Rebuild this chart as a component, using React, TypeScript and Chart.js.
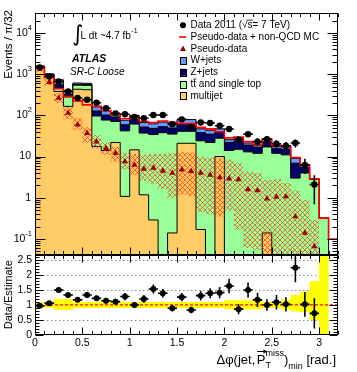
import React, { useEffect, useRef } from "react";
import { Chart, registerables } from "chart.js";

Chart.register(...registerables);

// ---------- binning (32 bins of 0.1 between 0 and 3.2) ----------
const BIN_WIDTH = 0.1;
const X_MAX = 3.2;
const binLow: number[] = Array.from({ length: 32 }, (_, i) => Math.round(i * BIN_WIDTH * 10) / 10);

// ---------- stacked backgrounds (events per bin) ----------
const multijet = [1400, 840, 380, 165, 430, 420, 17.6, 14, 22, 1.08, 14.6, 1.18, 0.29, 0, 0.14, 21, 21, 0.17, 0, 10, 0, 0, 0, 0, 0.14, 0, 0, 0, 0, 0, 0, 0];
const ttbar = [90, 90, 80, 115, 110, 115, 79, 63, 49, 41, 47, 36, 34, 38, 35, 20, 20, 24, 22, 18, 14, 15, 13, 12, 17, 12, 11, 3, 4, 2.8, 0.32, 0];
const zjets = [35, 30, 90, 45, 25, 25, 31, 25, 20, 17, 19, 15, 14, 15, 14, 20, 20, 14, 13, 12, 8, 8.5, 6, 4.5, 5.5, 3.5, 4, 3.9, 1.4, 0, 0, 0];
const wjets = [65, 60, 180, 75, 45, 40, 33, 27, 20, 17, 19, 15, 14, 15.5, 15, 18, 18, 9, 8.4, 7, 3.6, 3.5, 2.4, 1.7, 3, 2.1, 2, 2.2, 0.7, 0, 0, 0];

// ---------- pseudo-data + non-QCD MC (red line) ----------
const pseudoPlusMC = [1495, 830, 443, 286, 225, 180, 166, 131, 101, 83, 91, 71, 67, 73, 68, 63, 63, 51, 47, 40, 28.5, 29.7, 23, 19.7, 26.5, 18.7, 18, 9.5, 6.2, 2.9, 0.32, 0.1];

// ---------- pseudo-data (triangles) and its uncertainty band ----------
const pseudoData: (number | null)[] = [1350, 640, 263, 114, 59, 37, 23, 16, 12, 7.6, 6.3, 5.0, 5.3, 4.5, 4.0, 4.8, 4.4, 4.0, 3.6, 3.1, 2.9, 2.8, 1.6, 1.5, 0.95, 1.05, 1.07, 0.35, 0.14, 0.066, null, null];
const pseudoLow = [1150, 540, 200, 80, 45, 22, 16, 11, 7.5, 4.8, 3.6, 2.6, 2.2, 1.6, 1.0, 1.2, 1.1, 0.45, 0.4, 0.35, 0.5, 0.17, 0.06, 0.055, 0.03, 0.03, 0.03, 0.03, 0.03, 0.03, 0, 0];
const pseudoHigh = [1550, 760, 350, 160, 85, 52, 33, 22, 17, 12, 11.5, 11, 11.5, 11.5, 12, 13, 12.5, 10, 9.5, 9, 8.4, 7, 4.3, 4, 2.7, 2.8, 2.3, 1.5, 0.9, 0.29, 0, 0];

// ---------- data ----------
const dataVals: (number | null)[] = [1450, 880, 665, 380, 263, 240, 203, 149, 112, 106, 91, 85, 102, 102, 61, 80, 52, 67, 65, 56, 46.5, 25.5, 35, 23, 26.5, 20.4, 18.3, 21.3, 6.3, 2.1, null, null];
const dataErr = [38, 30, 26, 19.5, 16, 15.5, 14, 12, 10.5, 10.3, 9.5, 9.2, 10, 10, 7.8, 9, 7.2, 8.2, 8, 7.5, 6.8, 5, 5.9, 4.8, 5.1, 4.5, 4.3, 4.6, 2.5, 1.4, 0, 0];

// ---------- ratio panel ----------
const ratioVals: (number | null)[] = [0.97, 1.06, 1.5, 1.33, 1.17, 1.33, 1.22, 1.14, 1.11, 1.28, 1.0, 1.2, 1.53, 1.39, 0.89, 1.26, 0.83, 1.31, 1.39, 1.41, 1.63, 0.86, 1.5, 1.17, 1.0, 1.09, 1.02, 2.24, 1.02, 0.72, null, null];
const ratioErr = [0.03, 0.04, 0.06, 0.07, 0.07, 0.09, 0.09, 0.09, 0.1, 0.12, 0.1, 0.13, 0.15, 0.14, 0.11, 0.14, 0.11, 0.16, 0.17, 0.19, 0.24, 0.17, 0.25, 0.24, 0.19, 0.24, 0.24, 0.48, 0.41, 0.5, 0, 0];
const bandLow = [0.91, 0.91, 0.83, 0.83, 0.9, 0.9, 0.9, 0.9, 0.9, 0.9, 0.9, 0.9, 0.9, 0.9, 0.9, 0.9, 0.9, 0.9, 0.9, 0.9, 0.86, 0.86, 0.86, 0.86, 0.9, 0.9, 0.84, 0.78, 0.76, 0.5, 0, 1];
const bandHigh = [1.09, 1.09, 1.2, 1.2, 1.1, 1.1, 1.1, 1.1, 1.1, 1.1, 1.1, 1.1, 1.1, 1.1, 1.1, 1.1, 1.1, 1.1, 1.1, 1.1, 1.16, 1.16, 1.16, 1.16, 1.1, 1.1, 1.18, 1.33, 1.45, 1.8, 2.7, 1];

// ---------- axes ----------
const logTickExps = [-1, 0, 1, 2, 3, 4];
const ratioTickLabels = [0, 0.5, 1, 1.5, 2, 2.5];
const xTickLabels = [0, 0.5, 1, 1.5, 2, 2.5, 3];
const legendLabels = ["Data 2011 (", "Pseudo-data + non-QCD MC", "Pseudo-data", "W+jets", "Z+jets", "tt and single top", "multijet"];

const COL_MJ = "#ffcc66";
const COL_TT = "#99ff99";
const COL_Z = "#000066";
const COL_W = "#6699ff";
const COL_RED = "#ff0000";
const COL_PSEUDO = "#990000";
const COL_YELLOW = "#ffff00";
const FONT = '"Liberation Sans", Arial, Helvetica, sans-serif';
const TINY = 1e-3;

type Pt = { x: number; y: number };

const stepPts = (vals: number[], lin = false): Pt[] => {
  const f = (v: number) => (lin ? v : Math.max(v, TINY));
  const pts = binLow.map((x, i) => ({ x, y: f(vals[i]) }));
  pts.push({ x: X_MAX, y: f(vals[vals.length - 1]) });
  return pts;
};

const centerPts = (vals: (number | null)[]): Pt[] =>
  vals.flatMap((v, i) => (v == null ? [] : [{ x: binLow[i] + BIN_WIDTH / 2, y: v }]));

const errPts = (vals: (number | null)[], errs: number[], log: boolean): Pt[] => {
  const out: Pt[] = [];
  vals.forEach((v, i) => {
    if (v == null) return;
    const c = binLow[i] + BIN_WIDTH / 2;
    const lo = log ? Math.max(v - errs[i], TINY) : v - errs[i];
    out.push({ x: c, y: lo }, { x: c, y: v + errs[i] }, { x: c, y: NaN });
    out.push({ x: binLow[i], y: v }, { x: binLow[i] + BIN_WIDTH, y: v }, { x: binLow[i], y: NaN });
  });
  return out;
};

function txt(ctx: CanvasRenderingContext2D, s: string, x: number, y: number, size: number, align: CanvasTextAlign = "left", baseline: CanvasTextBaseline = "middle", style = "", color = "#000") {
  ctx.font = `${style} ${size}px ${FONT}`.trim();
  ctx.textAlign = align;
  ctx.textBaseline = baseline;
  ctx.fillStyle = color;
  ctx.fillText(s, x, y);
  return ctx.measureText(s).width;
}
function measure(ctx: CanvasRenderingContext2D, s: string, size: number, style = "") {
  ctx.font = `${style} ${size}px ${FONT}`.trim();
  return ctx.measureText(s).width;
}
function seg(ctx: CanvasRenderingContext2D, x1: number, y1: number, x2: number, y2: number) {
  ctx.beginPath();
  ctx.moveTo(x1, y1);
  ctx.lineTo(x2, y2);
  ctx.stroke();
}

const atlasPlugin = {
  id: "atlasDecor",
  beforeDatasetsDraw(chart: any) {
    const ctx: CanvasRenderingContext2D = chart.ctx;
    const xs = chart.scales.x;
    const yr = chart.scales.yr;
    ctx.save();
    ctx.strokeStyle = "#8c8c8c";
    ctx.lineWidth = 1;
    ctx.setLineDash([1.5, 2.5]);
    for (const v of [0.5, 1, 1.5, 2, 2.5]) {
      const py = Math.round(yr.getPixelForValue(v)) + 0.5;
      seg(ctx, xs.left, py, xs.right, py);
    }
    ctx.restore();
  },
  afterDraw(chart: any) {
    const ctx: CanvasRenderingContext2D = chart.ctx;
    const xs = chart.scales.x;
    const ym = chart.scales.y;
    const yr = chart.scales.yr;
    const L = Math.round(xs.left) + 0.5;
    const R = Math.round(xs.right) - 0.5;
    ctx.save();
    ctx.strokeStyle = "#000";
    ctx.lineWidth = 1;
    ctx.setLineDash([]);

    // frames
    for (const s of [ym, yr]) {
      const t = Math.round(s.top) + 0.5;
      const b = Math.round(s.bottom) - 0.5;
      ctx.strokeRect(L, t, R - L, b - t);
    }

    // x ticks on both panels (top and bottom edges)
    for (const s of [ym, yr]) {
      const t = Math.round(s.top) + 0.5;
      const b = Math.round(s.bottom) - 0.5;
      for (let k = 0; k <= 32; k++) {
        const px = Math.round(xs.getPixelForValue(k / 10)) + 0.5;
        const len = k % 5 === 0 ? 7 : 3.5;
        seg(ctx, px, b, px, b - len);
        seg(ctx, px, t, px, t + len);
      }
    }

    // log ticks (main panel)
    for (let e = -2; e <= 4; e++) {
      for (let m = 1; m <= 9; m++) {
        const v = m * Math.pow(10, e);
        if (v < ym.min || v > ym.max) continue;
        const py = Math.round(ym.getPixelForValue(v)) + 0.5;
        const len = m === 1 ? 10 : 5;
        seg(ctx, L, py, L + len, py);
        seg(ctx, R, py, R - len, py);
      }
    }

    // ratio ticks
    for (let k = 0; k <= 26; k++) {
      const py = Math.round(yr.getPixelForValue(k / 10)) + 0.5;
      const len = k % 5 === 0 ? 8 : 4;
      seg(ctx, L, py, L + len, py);
      seg(ctx, R, py, R - len, py);
    }

    // y labels (main, log)
    const rx = xs.left - 4;
    for (const e of logTickExps) {
      const py = ym.getPixelForValue(Math.pow(10, e));
      if (e === 0) txt(ctx, "1", rx, py, 10.5, "right");
      else if (e === 1) txt(ctx, "10", rx, py, 10.5, "right");
      else {
        const sup = String(e);
        const sw = measure(ctx, sup, 7.5);
        txt(ctx, sup, rx + 1, py - 5, 7.5, "right");
        txt(ctx, "10", rx + 1 - sw, py, 10.5, "right");
      }
    }
    // ratio labels
    for (const v of ratioTickLabels) {
      txt(ctx, String(v), xs.left - 3, yr.getPixelForValue(v), 10.5, "right");
    }
    // x labels
    for (const v of xTickLabels) {
      txt(ctx, String(v), xs.getPixelForValue(v), yr.bottom + 2.5, 10.5, "center", "top");
    }

    // axis titles
    ctx.save();
    ctx.translate(12, ym.top - 3);
    ctx.rotate(-Math.PI / 2);
    txt(ctx, "Events / \u03c0/32", 0, 0, 11.5, "right", "alphabetic");
    ctx.restore();
    ctx.save();
    ctx.translate(12, (yr.top + yr.bottom) / 2);
    ctx.rotate(-Math.PI / 2);
    txt(ctx, "Data/Estimate", 0, 0, 11, "center", "alphabetic");
    ctx.restore();

    // x-axis title: Δφ(jet,P_T^miss)_min [rad.]
    {
      const bs = 13, ss = 9, by = 364;
      const p1 = "\u0394\u03c6(jet,";
      const w1 = measure(ctx, p1, bs);
      const wP = measure(ctx, "P", bs);
      const wMiss = measure(ctx, "miss", ss);
      const wPar = measure(ctx, ")", bs);
      const wMin = measure(ctx, "min", ss);
      const wRad = measure(ctx, " [rad.]", bs);
      const total = w1 + 1.5 + wP + wMiss + wPar + wMin + wRad;
      let x0 = 336 - total;
      txt(ctx, p1, x0, by, bs, "left", "alphabetic");
      x0 += w1 + 1.5;
      txt(ctx, "P", x0, by, bs, "left", "alphabetic");
      ctx.lineWidth = 1;
      const ay = by - 12.5;
      seg(ctx, x0 + 0.5, ay, x0 + wP + 1, ay);
      ctx.beginPath();
      ctx.moveTo(x0 + wP + 2, ay);
      ctx.lineTo(x0 + wP - 2, ay - 2);
      ctx.lineTo(x0 + wP - 2, ay + 2);
      ctx.closePath();
      ctx.fillStyle = "#000";
      ctx.fill();
      x0 += wP;
      txt(ctx, "T", x0, by + 3.5, ss, "left", "alphabetic");
      txt(ctx, "miss", x0, by - 8.5, ss, "left", "alphabetic");
      x0 += wMiss;
      txt(ctx, ")", x0, by, bs, "left", "alphabetic");
      x0 += wPar;
      txt(ctx, "min", x0, by + 5, ss, "left", "alphabetic");
      x0 += wMin;
      txt(ctx, " [rad.]", x0, by, bs, "left", "alphabetic");
    }

    // annotations
    ctx.font = `22px "DejaVu Sans"`;
    ctx.textAlign = "left";
    ctx.textBaseline = "middle";
    ctx.fillStyle = "#000";
    ctx.fillText("\u222b", 72, 35);
    const wl = txt(ctx, "L dt ~4.7 fb", 80.5, 38.5, 10, "left", "alphabetic");
    txt(ctx, "-1", 80.5 + wl + 0.5, 33, 7, "left", "alphabetic");
    txt(ctx, "ATLAS", 72, 62, 10.5, "left", "alphabetic", "italic bold");
    txt(ctx, "SR-C Loose", 70, 74.5, 10, "left", "alphabetic", "italic");

    // legend
    const mx = 183, tx = 190.5, fs = 10;
    const rowY = (i: number) => 25.3 + i * 11.75;
    {
      const y = rowY(0);
      ctx.fillStyle = "#000";
      ctx.beginPath();
      ctx.arc(mx, y, 3, 0, Math.PI * 2);
      ctx.fill();
      let x = tx;
      x += txt(ctx, legendLabels[0], x, y, fs);
      const wr = txt(ctx, "\u221a", x, y, fs);
      x += wr;
      const wsx = txt(ctx, "s", x, y, fs);
      ctx.lineWidth = 0.8;
      seg(ctx, x - 0.5, y - 5.2, x + wsx + 0.3, y - 5.2);
      x += wsx;
      txt(ctx, "= 7 TeV)", x, y, fs);
    }
    {
      const y = rowY(1);
      ctx.strokeStyle = COL_RED;
      ctx.lineWidth = 1.6;
      seg(ctx, mx - 4, y, mx + 3, y);
      ctx.strokeStyle = "#000";
      txt(ctx, legendLabels[1], tx, y, fs);
    }
    {
      const y = rowY(2);
      ctx.fillStyle = COL_PSEUDO;
      ctx.beginPath();
      ctx.moveTo(mx, y - 3.2);
      ctx.lineTo(mx + 3, y + 2.3);
      ctx.lineTo(mx - 3, y + 2.3);
      ctx.closePath();
      ctx.fill();
      txt(ctx, legendLabels[2], tx, y, fs);
    }
    const boxes = [COL_W, COL_Z, COL_TT, COL_MJ];
    boxes.forEach((c, j) => {
      const y = rowY(3 + j);
      ctx.fillStyle = c;
      ctx.fillRect(mx - 3, y - 3.5, 6, 7);
      ctx.strokeStyle = "#000";
      ctx.lineWidth = 1;
      ctx.strokeRect(mx - 3 + 0.5, Math.round(y - 3.5) + 0.5, 6, 7);
      txt(ctx, legendLabels[3 + j], tx, y, fs);
      if (j === 2) {
        const wt = measure(ctx, "t", fs);
        ctx.lineWidth = 0.8;
        seg(ctx, tx + wt, y - 5, tx + 2 * wt + 0.3, y - 5);
      }
    });
    ctx.restore();
  },
};

export default function App() {
  const ref = useRef<HTMLCanvasElement | null>(null);
  useEffect(() => {
    const canvas = ref.current;
    if (!canvas) return;
    const ctx = canvas.getContext("2d")!;

    // red cross-hatch pattern
    const T = 5;
    const pc = document.createElement("canvas");
    pc.width = T;
    pc.height = T;
    const p = pc.getContext("2d")!;
    p.strokeStyle = "rgba(255,40,0,0.85)";
    p.lineWidth = 0.75;
    p.beginPath();
    p.moveTo(0, 0);
    p.lineTo(T, T);
    p.moveTo(T, 0);
    p.lineTo(0, T);
    p.stroke();
    const hatch = ctx.createPattern(pc, "repeat")!;

    const cumTT = multijet.map((v, i) => v + ttbar[i]);
    const cumZ = cumTT.map((v, i) => v + zjets[i]);
    const cumW = cumZ.map((v, i) => v + wjets[i]);

    const lineBase = { pointRadius: 0, stepped: true, spanGaps: false };
    const none = "rgba(0,0,0,0)";

    const datasets: any[] = [
      // ratio panel
      { ...lineBase, stepped: false, yAxisID: "yr", data: errPts(ratioVals, ratioErr, false), borderColor: "#000", borderWidth: 1.6 },
      { yAxisID: "yr", data: centerPts(ratioVals), showLine: false, pointRadius: 3, pointStyle: "circle", pointBackgroundColor: "#000", pointBorderColor: "#000", pointBorderWidth: 0 },
      { ...lineBase, stepped: false, yAxisID: "yr", data: [{ x: 0, y: 1 }, { x: X_MAX, y: 1 }], borderColor: COL_RED, borderWidth: 1.2, borderDash: [3, 2] },
      { ...lineBase, yAxisID: "yr", data: stepPts(bandHigh, true), borderColor: none, borderWidth: 1, fill: "+1", backgroundColor: COL_YELLOW },
      { ...lineBase, yAxisID: "yr", data: stepPts(bandLow, true), borderColor: none, borderWidth: 1, fill: false },
      // main panel
      { ...lineBase, stepped: false, yAxisID: "y", data: errPts(dataVals, dataErr, true), borderColor: "#000", borderWidth: 1.6 },
      { yAxisID: "y", data: centerPts(dataVals), showLine: false, pointRadius: 3.2, pointStyle: "circle", pointBackgroundColor: "#000", pointBorderColor: "#000", pointBorderWidth: 0 },
      { yAxisID: "y", data: centerPts(pseudoData), showLine: false, pointRadius: 3.6, pointStyle: "triangle", pointBackgroundColor: COL_PSEUDO, pointBorderColor: COL_PSEUDO, pointBorderWidth: 0 },
      { ...lineBase, yAxisID: "y", data: stepPts(pseudoPlusMC), borderColor: COL_RED, borderWidth: 1.6, fill: false },
      { ...lineBase, yAxisID: "y", data: stepPts(pseudoHigh), borderColor: none, borderWidth: 1, fill: "+1", backgroundColor: hatch },
      { ...lineBase, yAxisID: "y", data: stepPts(pseudoLow), borderColor: none, borderWidth: 1, fill: false },
      { ...lineBase, yAxisID: "y", data: stepPts(multijet), borderColor: "#000", borderWidth: 1, fill: "start", backgroundColor: COL_MJ },
      { ...lineBase, yAxisID: "y", data: stepPts(cumTT), borderColor: "#000", borderWidth: 1, fill: "start", backgroundColor: COL_TT },
      { ...lineBase, yAxisID: "y", data: stepPts(cumZ), borderColor: "#000", borderWidth: 1, fill: "start", backgroundColor: COL_Z },
      { ...lineBase, yAxisID: "y", data: stepPts(cumW), borderColor: "#000", borderWidth: 1, fill: "start", backgroundColor: COL_W },
    ];

    const hidden = { ticks: { display: false }, grid: { display: false }, border: { display: false } };

    const chart = new Chart(ctx, {
      type: "line",
      data: { datasets },
      options: {
        responsive: false,
        animation: false,
        events: [],
        layout: { padding: { left: 0, right: 19, top: 13, bottom: 0 } },
        plugins: { legend: { display: false }, tooltip: { enabled: false }, filler: { propagate: false } } as any,
        scales: {
          yr: { type: "linear", position: "left", stack: "panels", stackWeight: 1, weight: 0, min: 0, max: 2.68, ...hidden, afterFit: (s: any) => { s.width = 35; } },
          y: { type: "logarithmic", position: "left", stack: "panels", stackWeight: 3, weight: 1, min: 0.042, max: 30500, ...hidden, afterFit: (s: any) => { s.width = 35; } },
          x: { type: "linear", position: "bottom", min: 0, max: X_MAX, ...hidden, afterFit: (s: any) => { s.height = 37; } },
        } as any,
      },
      plugins: [atlasPlugin as any],
    });
    return () => chart.destroy();
  }, []);

  return (
    <div style={{ position: "fixed", left: 0, top: 0, width: 357, height: 372, background: "#fff" }}>
      <canvas ref={ref} width={357} height={372} style={{ display: "block", width: 357, height: 372 }} />
    </div>
  );
}
